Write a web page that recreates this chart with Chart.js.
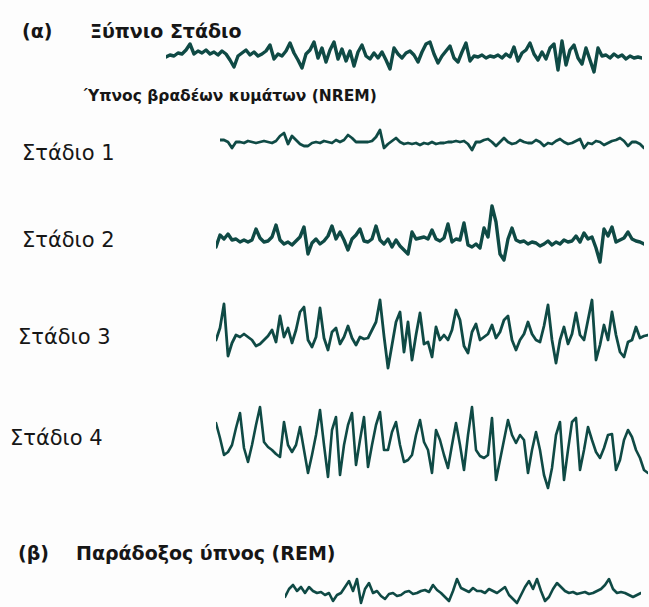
<!DOCTYPE html>
<html lang="el">
<head>
<meta charset="utf-8">
<title>Στάδια ύπνου - ΗΕΓ</title>
<script src="https://cdn.jsdelivr.net/npm/chart.js@4.4.0/dist/chart.umd.min.js"></script>
<style>
  html, body { margin: 0; padding: 0; background: #fdfdfd; }
  #page { position: relative; width: 649px; height: 607px; overflow: hidden; font-family: "DejaVu Sans", sans-serif; color: #161616; }
  .lbl { position: absolute; white-space: nowrap; line-height: 1; transform: translateY(-50%); }
  .b { font-weight: bold; font-size: 19px; }
  .st { font-size: 21px; }
  .trace { position: absolute; }
</style>
</head>
<body>
<div id="page">
  <div class="lbl b" style="left:22px; top:31px;">(α)</div>
  <div class="lbl b" style="left:90px; top:31px;">Ξύπνιο Στάδιο</div>
  <div class="lbl b" style="left:84px; top:97px; font-size:15.5px;">Ύπνος βραδέων κυμάτων (NREM)</div>
  <div class="lbl st" style="left:22px; top:153px;">Στάδιο 1</div>
  <div class="lbl st" style="left:22px; top:240px;">Στάδιο 2</div>
  <div class="lbl st" style="left:18px; top:337px;">Στάδιο 3</div>
  <div class="lbl st" style="left:10px; top:438px;">Στάδιο 4</div>
  <div class="lbl b" style="left:18px; top:553px;">(β)</div>
  <div class="lbl b" style="left:76px; top:553px;">Παράδοξος ύπνος (REM)</div>

  <div class="trace" id="wAwake"><canvas id="cAwake"></canvas></div>
  <div class="trace" id="wS1"><canvas id="cS1"></canvas></div>
  <div class="trace" id="wS2"><canvas id="cS2"></canvas></div>
  <div class="trace" id="wS3"><canvas id="cS3"></canvas></div>
  <div class="trace" id="wS4"><canvas id="cS4"></canvas></div>
  <div class="trace" id="wRem"><canvas id="cRem"></canvas></div>
</div>

<script>
// EEG amplitudes (arbitrary units, up = positive), equally spaced samples
const awake = [
  -1, 1, 0, 3, 2, 6, 12, 2, 5, 3, 6, 2, 4, 1, 5, 2, -4, -11, 0, 3,
  6, 1, 4, 0, 2, 5, 11, -3, 2, 0, 5, 13, 3, -4, -12, 2, 6, 14, -2, 8,
  -6, 6, 14, -3, 7, -5, 5, -10, 4, 11, 0, -3, 3, -2, 4, -4, -13, 8, 2, -2,
  3, 5, 1, -6, 4, 12, 14, 2, -7, 0, 5, 10, -2, -6, 4, 13, -5, 0, -1, 1,
  -2, 0, -1, 1, -2, 2, -1, 9, -5, 3, 6, 13, 2, -4, 4, -3, 8, 12, -14, 15,
  -9, 6, 11, -2, -8, 8, -4, -16, 8, 0, 1, -2, 2, -1, 1, -3, 0, -2, -1, -2,
];

const stage1 = [
  2, 2, 0, -6, 0, 0, -1, 1, 0, -1, 0, 1, 0, -1, 1, 6, 9, -2, 6, 2,
  -2, -4, -4, -1, 0, -1, 1, 0, -1, 2, 0, 2, 7, 4, 0, 0, 0, 0, 1, 5,
  12, -6, -2, 1, 4, 0, -2, -1, -2, -1, -3, -1, -2, 0, -2, -1, -1, 0, 0, 1,
  0, 1, -2, -8, 0, 0, 2, 3, 0, -4, 0, 4, 0, -2, -1, 2, 0, -1, -1, 2,
  0, -4, -1, -2, 1, 3, 0, -2, -1, 1, 3, -6, -1, -2, 1, 0, -3, -1, 1, 2,
  4, 1, -4, 0, 0, -2, -6,
];

const stage2 = [
  -5, 7, 3, 8, 2, 3, 0, 2, 0, 2, 13, 4, 0, 1, 5, 17, 2, -2, 0, -3,
  1, 5, 15, -12, -1, 3, -2, 1, 6, 16, 3, 10, 2, -8, 3, 7, 13, 1, 0, 3,
  16, 2, -2, 3, -5, 2, -4, -8, -12, 10, 3, 4, 5, 3, 12, 3, 1, 4, 18, 0,
  3, 2, 19, -3, -5, -2, -6, 14, 5, 36, 20, -12, -18, 3, 14, 2, 0, 1, -2, 0,
  -1, -4, -2, 1, -3, 0, -2, 2, 0, 1, 6, 0, 9, 3, 5, -6, -20, 13, 6, 15,
  0, 2, 4, 10, 3, 1, 0, -2,
];

const stage3 = [
  0, 12, 36, -16, -3, 5, 3, 6, 3, 0, -6, -4, 0, 4, 10, -2, 24, 3, 12, -3,
  10, 28, 33, 0, -7, 3, 32, 2, -10, 8, 12, -4, 3, 14, 2, -5, 3, 1, 2, 10,
  18, 40, 4, -28, -5, 18, 28, -12, 18, -20, 5, 27, -4, -2, -17, 13, 0, 5, 0, 10,
  30, 20, -6, -13, 8, 16, 0, 3, 6, 15, 2, 8, 20, 24, 0, -10, 0, 6, 18, 6,
  0, -2, 14, 35, 0, -23, 0, 13, -4, 6, 27, 5, 0, 20, 40, -20, -5, 15, 0, 28,
  5, -12, -17, -2, 0, 13, 2, 4, 5,
];

const stage4 = [
  17, 2, -15, -12, -5, 12, 27, -8, -22, -5, 15, 33, -2, -7, -10, -14, -17, 18, -5, -12,
  -5, 13, -10, -33, -15, 5, 30, -5, -37, 10, 23, -35, -5, 15, 27, -25, 0, 23, -27, -5,
  15, 28, -10, -10, 8, 18, -5, -22, -20, -15, 5, 20, -2, -10, -33, 10, 0, -15, -28, -5,
  17, -5, -30, 5, 33, -10, -16, -18, -15, 22, -40, -20, 0, 20, 5, -3, 5, 0, -33, -10,
  8, -10, -35, -48, -28, 5, 18, -40, -10, 18, 22, -30, -10, 13, 0, -12, -18, -8, 5, 6,
  -30, -20, 0, 10, 3, -10, -18, -30, -33,
];

const rem = [
  -4, 4, 8, 2, 6, 0, 6, 2, 0, 1, -2, 0, -8, -2, 0, 6, 12, 2, 14, -10,
  4, 10, 0, 2, -3, -6, -1, 0, -3, -2, 1, 2, -1, 0, 2, 3, 1, 8, 3, 0,
  -4, -8, 2, 14, 5, 3, 1, 5, 2, 2, 0, 4, 2, 0, 3, 6, -2, -6, -10, -2,
  6, 12, 4, 14, 2, -8, -4, 4, 10, 6, 2, 0, 1, -1, 0, 1, -1, 0, 2, 4,
  8, 14, 4, 0, 1, 0, -2, -4, -2, 0,
];

const TRACE_COLOR = '#0f4a45';

// where each trace sits on the page: left/right edge, baseline, pen width
const traces = [
  { id: 'Awake', data: awake,  left: 166, right: 642, base: 56,  half: 30, pen: 3.4 },
  { id: 'S1',    data: stage1, left: 220, right: 644, base: 142, half: 30, pen: 2.8 },
  { id: 'S2',    data: stage2, left: 216, right: 644, base: 242, half: 45, pen: 3.4 },
  { id: 'S3',    data: stage3, left: 216, right: 648, base: 340, half: 50, pen: 2.8 },
  { id: 'S4',    data: stage4, left: 216, right: 648, base: 440, half: 60, pen: 2.6 },
  { id: 'Rem',   data: rem,    left: 285, right: 641, base: 593, half: 30, pen: 2.6 },
];

function drawTrace(t) {
  const wrap = document.getElementById('w' + t.id);
  wrap.style.left = t.left + 'px';
  wrap.style.width = (t.right - t.left) + 'px';
  wrap.style.top = (t.base - t.half) + 'px';
  wrap.style.height = (t.half * 2) + 'px';

  new Chart(document.getElementById('c' + t.id), {
    type: 'line',
    data: {
      labels: t.data.map((_, i) => i),
      datasets: [{
        data: t.data,
        borderColor: TRACE_COLOR,
        borderWidth: t.pen,
        pointRadius: 0,
        tension: 0,
        borderJoinStyle: 'round',
        borderCapStyle: 'round',
        clip: false,
      }],
    },
    options: {
      responsive: true,
      maintainAspectRatio: false,
      animation: false,
      events: [],
      layout: { padding: 0 },
      plugins: { legend: { display: false }, tooltip: { enabled: false } },
      scales: {
        x: { display: false, offset: false },
        y: { display: false, min: -t.half, max: t.half },
      },
    },
  });
}

traces.forEach(drawTrace);
</script>
</body>
</html>
